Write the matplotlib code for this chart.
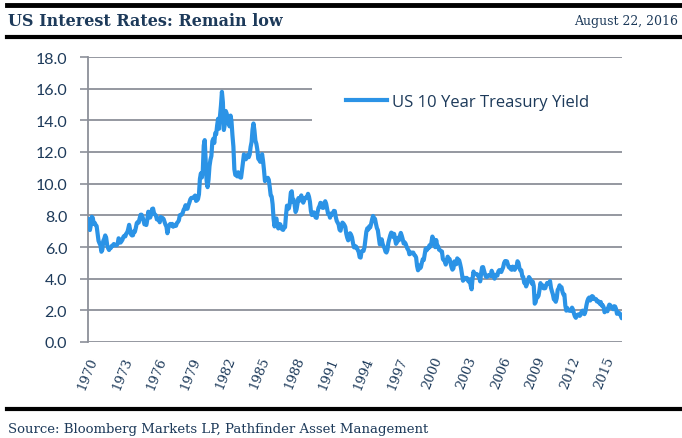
import numpy as np
import matplotlib
matplotlib.use("Agg")
import matplotlib.pyplot as pl
from matplotlib.lines import Line2D

# monthly US 10 year treasury yield, Jan 1970 - Jul 2016
yields = [
    7.79, 7.24, 7.07, 7.39, 7.91, 7.84, 7.46, 7.53, 7.39, 7.33, 6.84, 6.39,  # 1970
    6.24, 6.11, 5.70, 5.83, 6.39, 6.52, 6.73, 6.58, 6.14, 5.93, 5.81, 5.93,  # 1971
    5.95, 6.08, 6.07, 6.19, 6.13, 6.11, 6.11, 6.21, 6.55, 6.48, 6.28, 6.36,  # 1972
    6.46, 6.64, 6.71, 6.67, 6.85, 6.90, 7.13, 7.40, 7.09, 6.79, 6.73, 6.74,  # 1973
    6.99, 6.96, 7.21, 7.51, 7.58, 7.54, 7.81, 8.04, 8.04, 7.90, 7.68, 7.43,  # 1974
    7.50, 7.39, 7.73, 8.23, 8.06, 7.86, 8.06, 8.40, 8.43, 8.14, 8.05, 8.00,  # 1975
    7.74, 7.79, 7.73, 7.56, 7.90, 7.86, 7.83, 7.77, 7.59, 7.41, 7.29, 6.87,  # 1976
    7.21, 7.39, 7.46, 7.37, 7.46, 7.28, 7.33, 7.40, 7.34, 7.52, 7.58, 7.69,  # 1977
    8.01, 8.03, 8.04, 8.15, 8.35, 8.46, 8.64, 8.41, 8.42, 8.64, 8.81, 9.01,  # 1978
    9.10, 9.10, 9.12, 9.18, 9.25, 8.91, 8.95, 9.03, 9.33, 10.30, 10.65, 10.39,  # 1979
    10.80, 12.41, 12.75, 11.47, 10.18, 9.78, 10.25, 11.10, 11.51, 11.75, 12.68, 12.84,  # 1980
    12.57, 13.19, 13.12, 13.68, 14.10, 13.47, 14.28, 14.94, 15.80, 15.15, 13.39, 13.72,  # 1981
    14.59, 14.43, 13.86, 13.87, 13.62, 14.30, 13.95, 13.06, 12.34, 10.91, 10.55, 10.54,  # 1982
    10.46, 10.72, 10.51, 10.40, 10.38, 10.85, 11.38, 11.85, 11.65, 11.54, 11.69, 11.83,  # 1983
    11.67, 11.84, 12.32, 12.63, 13.41, 13.80, 13.36, 12.72, 12.52, 12.16, 11.57, 11.50,  # 1984
    11.38, 11.51, 11.86, 11.43, 10.85, 10.16, 10.31, 10.33, 10.37, 10.24, 9.78, 9.26,  # 1985
    9.19, 8.70, 7.78, 7.30, 7.71, 7.80, 7.30, 7.17, 7.45, 7.43, 7.25, 7.11,  # 1986
    7.08, 7.25, 7.25, 8.02, 8.61, 8.40, 8.45, 8.76, 9.42, 9.52, 8.86, 8.99,  # 1987
    8.67, 8.21, 8.37, 8.72, 9.09, 8.92, 9.06, 9.26, 8.98, 8.80, 8.96, 9.11,  # 1988
    9.09, 9.17, 9.36, 9.18, 8.86, 8.28, 8.02, 8.11, 8.19, 8.01, 7.87, 7.84,  # 1989
    8.21, 8.47, 8.59, 8.79, 8.76, 8.48, 8.47, 8.75, 8.89, 8.72, 8.39, 8.08,  # 1990
    8.09, 7.85, 8.11, 8.04, 8.07, 8.28, 8.27, 7.90, 7.65, 7.53, 7.42, 7.09,  # 1991
    7.03, 7.34, 7.54, 7.48, 7.39, 7.26, 6.84, 6.59, 6.42, 6.59, 6.87, 6.77,  # 1992
    6.60, 6.26, 5.98, 5.97, 6.04, 5.96, 5.81, 5.68, 5.36, 5.33, 5.72, 5.77,  # 1993
    5.75, 5.97, 6.48, 6.97, 7.18, 7.10, 7.30, 7.24, 7.46, 7.74, 7.96, 7.81,  # 1994
    7.78, 7.47, 7.20, 7.06, 6.63, 6.17, 6.28, 6.49, 6.20, 6.04, 5.93, 5.71,  # 1995
    5.65, 5.81, 6.27, 6.51, 6.74, 6.91, 6.87, 6.64, 6.83, 6.53, 6.20, 6.30,  # 1996
    6.58, 6.42, 6.69, 6.89, 6.71, 6.49, 6.22, 6.30, 6.21, 6.03, 5.88, 5.81,  # 1997
    5.54, 5.57, 5.65, 5.64, 5.65, 5.50, 5.46, 5.34, 4.81, 4.53, 4.83, 4.65,  # 1998
    4.72, 5.00, 5.23, 5.18, 5.54, 5.90, 5.79, 5.94, 5.92, 6.11, 6.03, 6.28,  # 1999
    6.66, 6.52, 6.26, 5.99, 6.44, 6.10, 6.05, 5.83, 5.80, 5.74, 5.72, 5.24,  # 2000
    5.16, 5.10, 4.89, 5.14, 5.39, 5.28, 5.24, 4.97, 4.73, 4.57, 4.65, 5.09,  # 2001
    5.04, 4.91, 5.28, 5.21, 5.16, 4.93, 4.65, 4.26, 3.87, 3.94, 4.05, 4.03,  # 2002
    4.05, 3.90, 3.81, 3.96, 3.57, 3.33, 3.98, 4.45, 4.27, 4.29, 4.30, 4.27,  # 2003
    4.15, 4.08, 3.83, 4.35, 4.72, 4.73, 4.50, 4.28, 4.13, 4.10, 4.19, 4.23,  # 2004
    4.22, 4.17, 4.50, 4.34, 4.14, 4.00, 4.18, 4.26, 4.20, 4.46, 4.54, 4.47,  # 2005
    4.42, 4.57, 4.72, 4.99, 5.11, 5.11, 5.09, 4.88, 4.72, 4.73, 4.60, 4.56,  # 2006
    4.76, 4.72, 4.56, 4.69, 4.75, 5.10, 5.00, 4.67, 4.52, 4.53, 4.15, 4.10,  # 2007
    3.74, 3.74, 3.51, 3.68, 3.88, 4.10, 4.01, 3.89, 3.69, 3.81, 3.53, 2.42,  # 2008
    2.52, 2.87, 2.82, 2.93, 3.29, 3.72, 3.56, 3.59, 3.40, 3.39, 3.40, 3.59,  # 2009
    3.73, 3.69, 3.73, 3.85, 3.42, 3.20, 3.01, 2.70, 2.65, 2.54, 2.76, 3.29,  # 2010
    3.39, 3.58, 3.41, 3.46, 3.17, 3.00, 3.00, 2.30, 1.98, 2.15, 2.01, 1.98,  # 2011
    1.97, 1.97, 2.17, 2.05, 1.80, 1.62, 1.53, 1.68, 1.72, 1.75, 1.65, 1.72,  # 2012
    1.91, 1.98, 1.96, 1.76, 1.93, 2.30, 2.58, 2.74, 2.81, 2.62, 2.72, 2.90,  # 2013
    2.86, 2.71, 2.72, 2.71, 2.56, 2.60, 2.54, 2.42, 2.53, 2.30, 2.33, 2.21,  # 2014
    1.88, 1.98, 2.04, 1.94, 2.20, 2.36, 2.32, 2.17, 2.17, 2.07, 2.26, 2.24,  # 2015
    2.09, 1.78, 1.89, 1.81, 1.81, 1.64, 1.50,  # 2016
]
start_year = 1970
tick_years = list(range(1970, 2016, 3))
y_ticks = [0, 2, 4, 6, 8, 10, 12, 14, 16, 18]

title = "US Interest Rates: Remain low"
date_text = "August 22, 2016"
source = "Source: Bloomberg Markets LP, Pathfinder Asset Management"
series_name = "US 10 Year Treasury Yield"

navy = "#1d3a5a"
blue = "#2b93e6"
grid = "#8c9099"

t = start_year + np.arange(len(yields)) / 12.0

W, H = 682, 439
fig = pl.figure(figsize=(W / 100, H / 100), dpi=100)
ax = fig.add_axes([88 / W, 1 - 343 / H, (622 - 88) / W, (343 - 58) / H])

ax.plot(t, yields, color=blue, lw=3.0, solid_capstyle="round", solid_joinstyle="round", zorder=3)

ax.set_xlim(start_year, t[-1] + 0.02)
ax.set_ylim(0, 18)
ax.set_yticks(y_ticks)
ax.set_yticklabels([f"{v:.1f}" for v in y_ticks], fontfamily="Lato", fontsize=11.5, color=navy)
ax.set_xticks(tick_years)
ax.set_xticklabels([str(y) for y in tick_years], rotation=68, ha="right", va="top",
                   rotation_mode="anchor", fontfamily="DejaVu Serif", fontsize=9.5, color=navy)
ax.tick_params(axis="x", length=0, pad=9)
ax.tick_params(axis="y", length=6, width=1.2, color=grid, pad=9)

for v in y_ticks:
    ax.axhline(v, color=grid, lw=1.3, zorder=1)
for side in ["top", "right", "bottom"]:
    ax.spines[side].set_visible(False)
ax.spines["left"].set_color(grid)
ax.spines["left"].set_linewidth(1.3)

# legend box hides the grid lines behind it
leg = ax.legend([Line2D([0], [0], color=blue, lw=3.0)], [series_name],
                loc="center right", bbox_to_anchor=(1.0, 0.842), frameon=True,
                prop={"family": "Open Sans", "size": 12}, handlelength=2.5,
                handletextpad=0.25, borderpad=2.0, borderaxespad=0)
leg.get_frame().set_edgecolor("white")
leg.get_frame().set_facecolor("white")
leg.get_frame().set_alpha(1)
leg.get_frame().set_linewidth(0)
leg.set_zorder(5)
for txt in leg.get_texts():
    txt.set_color(navy)

# header and footer rules
for y, lw in [(6, 3.5), (38, 3), (410, 3)]:
    fig.add_artist(Line2D([7 / W, 1], [1 - y / H] * 2, color="black", lw=lw))

fig.text(8 / W, 1 - 21 / H, title, fontfamily="DejaVu Serif", fontweight="bold",
         fontsize=11.5, color=navy, va="center", ha="left")
fig.text(678 / W, 1 - 21 / H, date_text, fontfamily="DejaVu Serif",
         fontsize=9, color=navy, va="center", ha="right")
fig.text(8 / W, 1 - 430 / H, source, fontfamily="DejaVu Serif",
         fontsize=9.5, color=navy, va="center", ha="left")

fig.savefig("out.png", dpi=100)
pl.close(fig)
